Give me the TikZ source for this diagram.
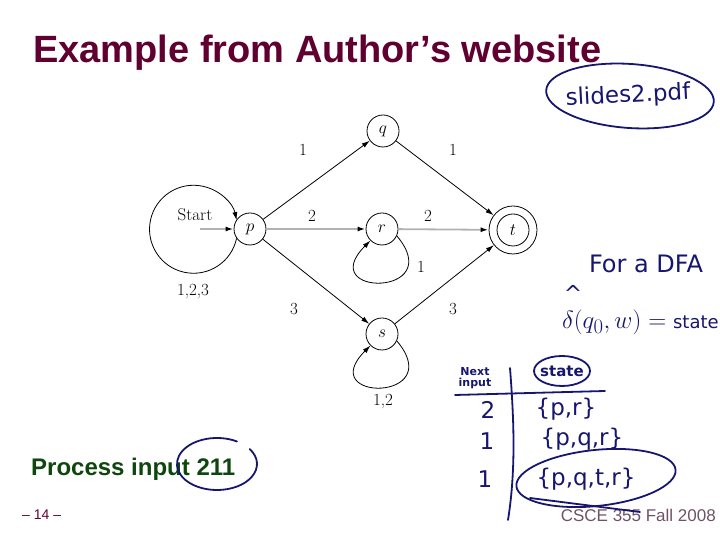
\documentclass[tikz,border=0pt]{standalone}
\usepackage{fontspec}
\newfontfamily\slidefont{Liberation Sans}
\newfontfamily\inkfont{DejaVu Sans}
\usepackage{xcolor}
\usetikzlibrary{positioning, arrows.meta, calc}
\definecolor{titlered}{RGB}{96,0,48}
\definecolor{slidegreen}{RGB}{14,70,14}
\definecolor{inkblue}{RGB}{22,22,112}
\definecolor{footgray}{RGB}{112,82,102}

\begin{document}
\begin{tikzpicture}[x=1pt, y=1pt,
    state/.style={draw, circle, minimum size=32pt, inner sep=0pt, line width=0.8pt,
                  font=\fontsize{16}{16}\selectfont},
    arw/.style={-{Latex[length=8pt, width=5pt]}, line width=0.8pt},
    garw/.style={-{Latex[length=8pt, width=5pt, black]}, line width=1.8pt, gray!60},
    lbl/.style={font=\fontsize{17}{17}\selectfont},
    ink/.style={draw=inkblue, line width=1.8pt, line cap=round},
    inktxt/.style={text=inkblue, inner sep=0pt, font=\inkfont\fontsize{23}{25}\selectfont},
]
\useasboundingbox (0,0) rectangle (720,540);

% Slide text
\node[anchor=base west, inner sep=0pt, text=titlered,
      font=\slidefont\bfseries\fontsize{38}{42}\selectfont] (title) at (33,477)
     {Example from Author’s website};
\node[anchor=base west, inner sep=0pt, text=slidegreen,
      font=\slidefont\bfseries\fontsize{24}{28}\selectfont] (proc) at (31,64)
     {Process input 211};
\node[anchor=west, inner sep=0pt, text=titlered,
      font=\slidefont\fontsize{14}{16}\selectfont] (page) at (22,25) {– 14 –};
\node[anchor=east, inner sep=0pt, text=footgray,
      font=\slidefont\fontsize{17}{19}\selectfont] (foot) at (716,25) {CSCE 355 Fall 2008};

% States
\node[state] (p) at (250,311) {$p$};
\node[state] (q) at (383,409) {$q$};
\node[state] (r) at (382,311) {$r$};
\node[state] (s) at (382,206) {$s$};
\node[state, minimum size=48pt] (t) at (513,310) {};
\node[state] (tin) at (t) {$t$};
\coordinate (start) at (200,311);

\draw[garw] (start) -- (p);
\draw[garw] (p) -- (r);
\draw[garw] (r) -- (t);
\draw[arw] (p) -- (q);
\draw[arw] (q) -- (t);
\draw[arw] (p) -- (s);
\draw[arw] (s) -- (t);
\draw[arw] (p.215) arc[start angle=-12, end angle=-348, radius=44pt];
\draw[arw] (r.-25) .. controls +(-50:80) and +(-135:80) .. (r.-135);
\draw[arw] (s.-25) .. controls +(-50:80) and +(-135:80) .. (s.-135);

% Labels
\node[lbl] (lstart) at (195,325) {Start};
\node[lbl] (lp) at (193,248) {1,2,3};
\node[lbl] (lpq) at (303,390) {1};
\node[lbl] (lqt) at (453,390) {1};
\node[lbl] (lpr) at (312,324) {2};
\node[lbl] (lrt) at (428,324) {2};
\node[lbl] (lps) at (294,231) {3};
\node[lbl] (lst) at (453,231) {3};
\node[lbl] (lr) at (421,273) {1};
\node[lbl] (ls) at (383,138) {1,2};

% Ink notes
\node[inktxt, rotate=3] (slides) at (628,444) {slides2.pdf};
\draw[ink, rotate around={-4:(630,444)}] (630,444) ellipse[x radius=84, y radius=32];
\node[inktxt, font=\inkfont\fontsize{24}{26}\selectfont] (dfa) at (646,276) {For a DFA};
\node[inktxt, font=\inkfont\fontsize{22}{22}\selectfont] (hat) at (573,247) {\^{}};
\node[inktxt, font=\fontsize{28}{30}\selectfont, anchor=west] (dhat) at (562,218)
     {$\delta(q_0,w)={}$\inkfont\fontsize{18}{20}\selectfont state};
\node[inktxt, align=center, font=\inkfont\bfseries\fontsize{11}{11}\selectfont] (next)
     at (475,162) {Next\\input};
\node[inktxt, font=\inkfont\bfseries\fontsize{15}{17}\selectfont] (st) at (562,169) {state};
\draw[ink] (st) ellipse[x radius=28, y radius=15];
\draw[ink] (510,172) .. controls (514,120) and (516,70) .. (508,20);
\draw[ink] (455,145) -- (605,149);
\node[inktxt] (i1) at (488,130) {2};
\node[inktxt] (i2) at (487,99) {1};
\node[inktxt] (i3) at (485,61) {1};
\node[inktxt] (s1) at (566,131) {\{p,r\}};
\node[inktxt] (s2) at (582,101) {\{p,q,r\}};
\node[inktxt] (s3) at (586,61) {\{p,q,t,r\}};
\draw[ink, rotate around={6:(596,62)}] (596,62) ellipse[x radius=80, y radius=28];
\draw[ink] (530,42) -- (640,28);
\draw[ink] (217,76) ++(60:40 and 26) arc[start angle=60, end angle=395, x radius=40, y radius=26];
\end{tikzpicture}
\end{document}
